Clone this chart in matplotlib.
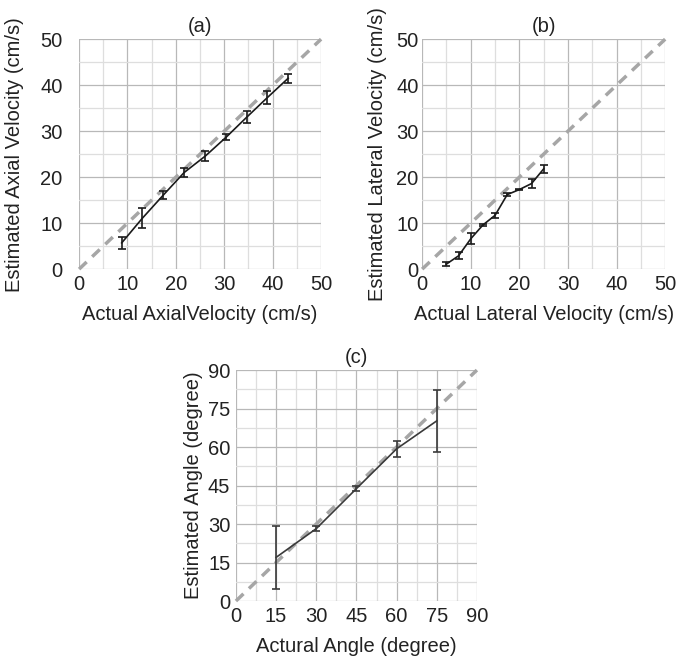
import numpy as np
import matplotlib
matplotlib.use("Agg")
import matplotlib.pyplot as plt
from matplotlib.ticker import MultipleLocator

plt.rcParams["font.family"] = ["Liberation Sans", "DejaVu Sans"]
plt.rcParams["font.size"] = 14

# (a) axial velocity
axial_actual = [8.8, 13.1, 17.4, 21.7, 26.1, 30.4, 34.6, 38.9, 43.2]
axial_est = [5.7, 11.1, 16.1, 21.0, 24.6, 28.7, 33.0, 37.3, 41.5]
axial_err = [1.3, 2.1, 0.9, 1.0, 1.0, 0.6, 1.3, 1.5, 1.0]

# (b) lateral velocity
lat_actual = [5.0, 7.5, 10.0, 12.5, 15.0, 17.5, 20.0, 22.5, 25.0]
lat_est = [1.1, 2.9, 6.6, 9.6, 11.7, 16.2, 17.3, 18.6, 21.8]
lat_err = [0.5, 0.8, 1.2, 0.3, 0.6, 0.4, 0.2, 0.9, 0.8]

# (c) angle
ang_actual = [15, 30, 45, 60, 75]
ang_est = [17.0, 28.2, 43.8, 59.3, 70.2]
ang_err = [12.3, 0.9, 0.9, 3.0, 12.0]

fig = plt.figure(figsize=(6.76, 6.58), dpi=100)
FS = 14.5


def panel(rect, x, y, err, lim, major, minor, title, xlabel, ylabel,
          line_color, ypad, ylab_x):
    ax = fig.add_axes(rect)
    ax.set_xlim(0, lim)
    ax.set_ylim(0, lim)
    ax.xaxis.set_major_locator(MultipleLocator(major))
    ax.yaxis.set_major_locator(MultipleLocator(major))
    ax.xaxis.set_minor_locator(MultipleLocator(minor))
    ax.yaxis.set_minor_locator(MultipleLocator(minor))
    ax.grid(which="major", color="#b8b8b8", lw=0.9)
    ax.grid(which="minor", color="#dedede", lw=0.9)
    ax.set_axisbelow(True)
    for s in ax.spines.values():
        s.set_visible(False)
    ax.tick_params(which="both", length=0, labelsize=FS, colors="#222222")
    ax.tick_params(axis="y", pad=ypad)
    ax.tick_params(axis="x", pad=4.5)
    ax.plot([0, lim], [0, lim], color="#a6a6a6", lw=2.5, ls=(0, (3, 2.2)),
            zorder=2, clip_on=False)
    ax.errorbar(x, y, yerr=err, color=line_color, lw=1.2, elinewidth=1.2,
                capsize=3, capthick=1.2, zorder=3)
    ax.set_title(title, fontsize=FS, pad=5, color="#222222")
    ax.set_xlabel(xlabel, fontsize=FS, labelpad=7.5, color="#222222")
    ax.set_ylabel(ylabel, fontsize=FS, color="#222222")
    ax.yaxis.set_label_coords(ylab_x, 0.5)
    return ax


panel([0.117, 0.591, 0.358, 0.3495], axial_actual, axial_est, axial_err,
      50, 10, 5, "(a)", "Actual AxialVelocity (cm/s)",
      "Estimated Axial Velocity (cm/s)", "#1a1a1a", 12, -0.228)
panel([0.6245, 0.591, 0.3595, 0.3495], lat_actual, lat_est, lat_err,
      50, 10, 5, "(b)", "Actual Lateral Velocity (cm/s)",
      "Estimated Lateral Velocity (cm/s)", "#1a1a1a", 2.5, -0.145)
panel([0.349, 0.0866, 0.3565, 0.351], ang_actual, ang_est, ang_err,
      90, 15, 7.5, "(c)", "Actural Angle (degree)",
      "Estimated Angle (degree)", "#3a3a3a", 4, -0.135)

fig.savefig("out.png", dpi=100)
